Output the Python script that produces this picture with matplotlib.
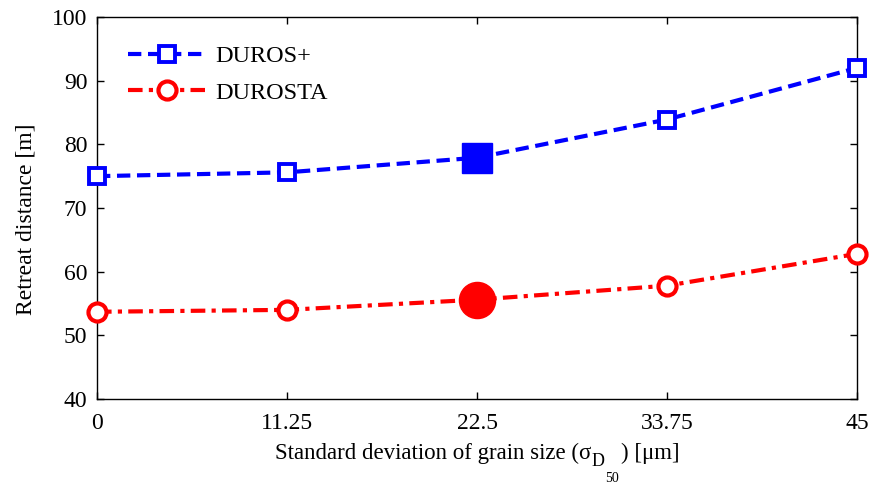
import matplotlib
matplotlib.use("Agg")
import matplotlib.pyplot as plt
import numpy as np

plt.rcParams['font.family'] = ['Liberation Serif', 'DejaVu Serif']

sigma = [0, 11.25, 22.5, 33.75, 45]
duros_plus = [75.0, 75.6, 77.9, 83.9, 92.0]
durosta = [53.7, 54.0, 55.6, 57.8, 62.8]
x_ticks = [0, 11.25, 22.5, 33.75, 45]
x_tick_labels = ["0", "11.25", "22.5", "33.75", "45"]
y_ticks = [40, 50, 60, 70, 80, 90, 100]
highlight = 2  # the reference case (22.5)

fig = plt.figure(figsize=(8.69, 4.88), dpi=100)
ax = fig.add_axes([97/869, 1 - 399/488, (857 - 97)/869, (399 - 17)/488])

ax.plot(sigma, duros_plus, color='blue', ls=(0, (3.2, 1.6)), lw=3,
        marker='s', ms=12, mfc='white', mec='blue', mew=2.8, label='DUROS+',
        clip_on=False, zorder=3)
ax.plot(sigma, durosta, color='red', ls=(0, (3.5, 1.5, 1, 1.5)), lw=3,
        marker='o', ms=13, mfc='white', mec='red', mew=3, label='DUROSTA',
        clip_on=False, zorder=3)

# filled markers at the reference case
ax.plot(sigma[highlight], duros_plus[highlight], marker='s', ms=21,
        color='blue', ls='none', zorder=4)
ax.plot(sigma[highlight], durosta[highlight], marker='o', ms=26,
        color='red', ls='none', zorder=4)

ax.set_xlim(0, 45)
ax.set_ylim(40, 100)
ax.set_xticks(x_ticks)
ax.set_xticklabels(x_tick_labels)
ax.set_yticks(y_ticks)
ax.tick_params(direction='in', length=5, width=1, top=True, right=True,
               labelsize=17)
ax.tick_params(axis='x', pad=10)
ax.tick_params(axis='y', pad=7)
for s in ax.spines.values():
    s.set_linewidth(1)

ax.set_ylabel("Retreat distance [m]", fontsize=17)
ax.yaxis.set_label_coords(-0.079, 0.47)

# x label, MATLAB-style with the detached subscript
fig.text(591/869, 1 - 453/488, "Standard deviation of grain size (σ",
         ha='right', va='center', fontsize=16.5)
fig.text(592/869, 1 - 461/488, "D", ha='left', va='center', fontsize=13)
fig.text(621/869, 1 - 453/488, ") [μm]", ha='left', va='center', fontsize=16.5)
fig.text(605/869, 1 - 478/488, "50", ha='left', va='center', fontsize=10)

leg = ax.legend(loc='upper left', bbox_to_anchor=(0.018, 0.97), frameon=False,
                fontsize=17.5, handlelength=3.2, handletextpad=0.4,
                labelspacing=0.58, borderaxespad=0.3)

fig.savefig("out.png", dpi=100)
